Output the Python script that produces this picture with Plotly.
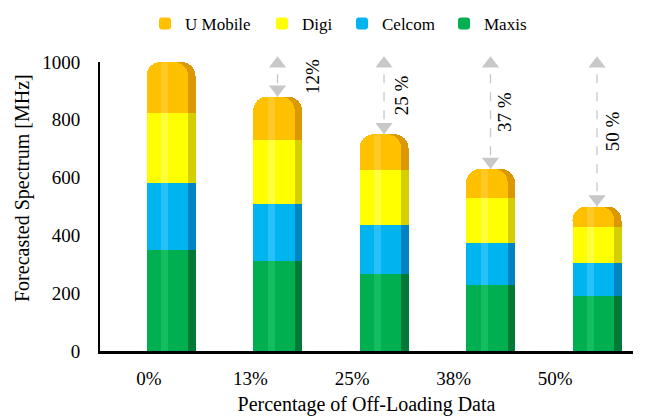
import numpy as np
import plotly.graph_objects as go

# ---------------- data ----------------
categories = ["0%", "13%", "25%", "38%", "50%"]
series_names = ["Maxis", "Celcom", "Digi", "U Mobile"]
maxis = [350, 310, 265, 230, 190]
celcom = [230, 200, 170, 145, 115]
digi = [245, 220, 190, 155, 125]
umobile = [175, 150, 125, 100, 70]
reduction_labels = ["12%", "25 %", "37 %", "50 %"]
y_tick_values = [0, 200, 400, 600, 800, 1000]
x_title = "Percentage of Off-Loading Data"
y_title = "Forecasted Spectrum [MHz]"

# ---------------- style ----------------
FONT = "Liberation Serif"
W, H = 650, 416
M = dict(l=100, r=17, t=62, b=65, autoexpand=False)
Y_RANGE = [0, 1000]
LABEL_X_RANGE = [-0.483, 4.768]   # category label axis (front of the 3D floor)
BAR_X_RANGE = [-0.667, 4.338]     # bar axis (perspective-shifted bars)
BAR_W = 0.46
ARROW_COLOR = "#c8c8c8"
palette = {
    "Maxis": ("#00b050", "#007a36", "#2ccf6f"),
    "Celcom": ("#00b4f0", "#0085c2", "#55d2ff"),
    "Digi": ("#ffff00", "#d6cf00", "#ffff8a"),
    "U Mobile": ("#ffc000", "#dc9800", "#ffd659"),
}
legend_key = {"U Mobile": "legend", "Digi": "legend2", "Celcom": "legend3", "Maxis": "legend4"}
legend_left_px = {"legend": 145, "legend2": 262, "legend3": 342, "legend4": 444}

values = {"Maxis": maxis, "Celcom": celcom, "Digi": digi, "U Mobile": umobile}
n = len(categories)
x = np.arange(n)

fig = go.Figure()
# empty trace to anchor the label axis
fig.add_trace(go.Scatter(x=[], y=[], showlegend=False, hoverinfo="skip"))

CR = 14
for name in series_names:
    vals = np.array(values[name], dtype=float)
    light, dark, hl = palette[name]
    fig.add_bar(x=x, y=vals, width=BAR_W, offset=-BAR_W / 2, offsetgroup="dark", xaxis="x2",
                marker=dict(color=dark, cornerradius=CR, line=dict(width=0)),
                showlegend=False, hoverinfo="skip", cliponaxis=False)
    fig.add_bar(x=x, y=vals, width=BAR_W * 0.85, offset=-BAR_W / 2, offsetgroup="light", xaxis="x2",
                marker=dict(color=light, cornerradius=CR, line=dict(width=0)),
                name=name, legend=legend_key[name], cliponaxis=False)
    fig.add_bar(x=x, y=vals, width=BAR_W * 0.14, offset=-BAR_W / 2 + BAR_W * 0.3, offsetgroup="hl",
                xaxis="x2",
                marker=dict(color=hl, cornerradius=3, line=dict(width=0), opacity=0.45),
                showlegend=False, hoverinfo="skip", cliponaxis=False)

totals = np.sum([values[s] for s in series_names], axis=0).astype(float)
ref_level = totals.max() + 20
plot_h = H - M["t"] - M["b"]
plot_w = W - M["l"] - M["r"]
ppu = plot_h / (Y_RANGE[1] - Y_RANGE[0])  # px per unit
tri_size = 15
tri_r = tri_size / 2

# reference dashed line
fig.add_trace(go.Scatter(x=[x[0] - 0.1, x[-1] + 0.14], y=[ref_level, ref_level], mode="lines",
                         xaxis="x2", line=dict(color=ARROW_COLOR, width=1.3, dash="dash"),
                         showlegend=False, hoverinfo="skip", cliponaxis=False))

annotations = []
xshifts = [35, 17, 14, 15]
for k, i in enumerate(range(1, n)):
    t = totals[i]
    fig.add_trace(go.Scatter(x=[x[i], x[i]], y=[ref_level, t], mode="lines", xaxis="x2",
                             line=dict(color=ARROW_COLOR, width=1.3, dash="dash"),
                             showlegend=False, hoverinfo="skip", cliponaxis=False))
    fig.add_trace(go.Scatter(x=[x[i], x[i]],
                             y=[ref_level - tri_r / ppu, t + tri_r / ppu],
                             mode="markers", xaxis="x2",
                             marker=dict(symbol=["triangle-up", "triangle-down"], size=tri_size,
                                         color=ARROW_COLOR, line=dict(width=0)),
                             showlegend=False, hoverinfo="skip", cliponaxis=False))
    annotations.append(dict(x=x[i], y=(ref_level + t) / 2, xref="x2", yref="y",
                            text=reduction_labels[k],
                            textangle=-90, showarrow=False, xshift=xshifts[k],
                            font=dict(family=FONT, size=19, color="black")))

# y-axis title (placed slightly above the plot centre, as in the reference)
annotations.append(dict(text=y_title, textangle=-90, showarrow=False,
                        xref="paper", yref="paper",
                        x=(22 - M["l"]) / plot_w, y=(H - M["b"] - 188) / plot_h,
                        xanchor="center", yanchor="middle",
                        font=dict(family=FONT, size=20, color="black")))

legend_y = 1 + (M["t"] - 6) / plot_h
legends = {}
for key, px in legend_left_px.items():
    legends[key] = dict(orientation="h", x=(px - M["l"]) / plot_w, xanchor="left",
                        y=legend_y, yanchor="top",
                        font=dict(family=FONT, size=17), itemwidth=30,
                        bgcolor="rgba(0,0,0,0)")

fig.update_layout(
    width=W, height=H, margin=M,
    barmode="stack",
    paper_bgcolor="white", plot_bgcolor="white",
    font=dict(family=FONT, size=19, color="black"),
    showlegend=True,
    annotations=annotations,
    **legends,
)
fig.update_layout(
    xaxis=dict(range=LABEL_X_RANGE, tickvals=list(x), ticktext=categories,
               showline=True, linecolor="black", linewidth=2.5, ticks="",
               showgrid=False, zeroline=False, ticklabelstandoff=8,
               tickfont=dict(family=FONT, size=19),
               title=dict(text=x_title, font=dict(family=FONT, size=20), standoff=16)),
    xaxis2=dict(range=BAR_X_RANGE, overlaying="x", visible=False, showgrid=False, zeroline=False),
    yaxis=dict(range=Y_RANGE, tickvals=y_tick_values, showline=True, linecolor="black",
               linewidth=2, ticks="", showgrid=False, zeroline=False, ticklabelstandoff=14,
               tickfont=dict(family=FONT, size=19)),
)

fig.write_html("out.html", config={"displayModeBar": False},
               post_script="document.body.style.margin='0';document.body.style.overflow='hidden';")
